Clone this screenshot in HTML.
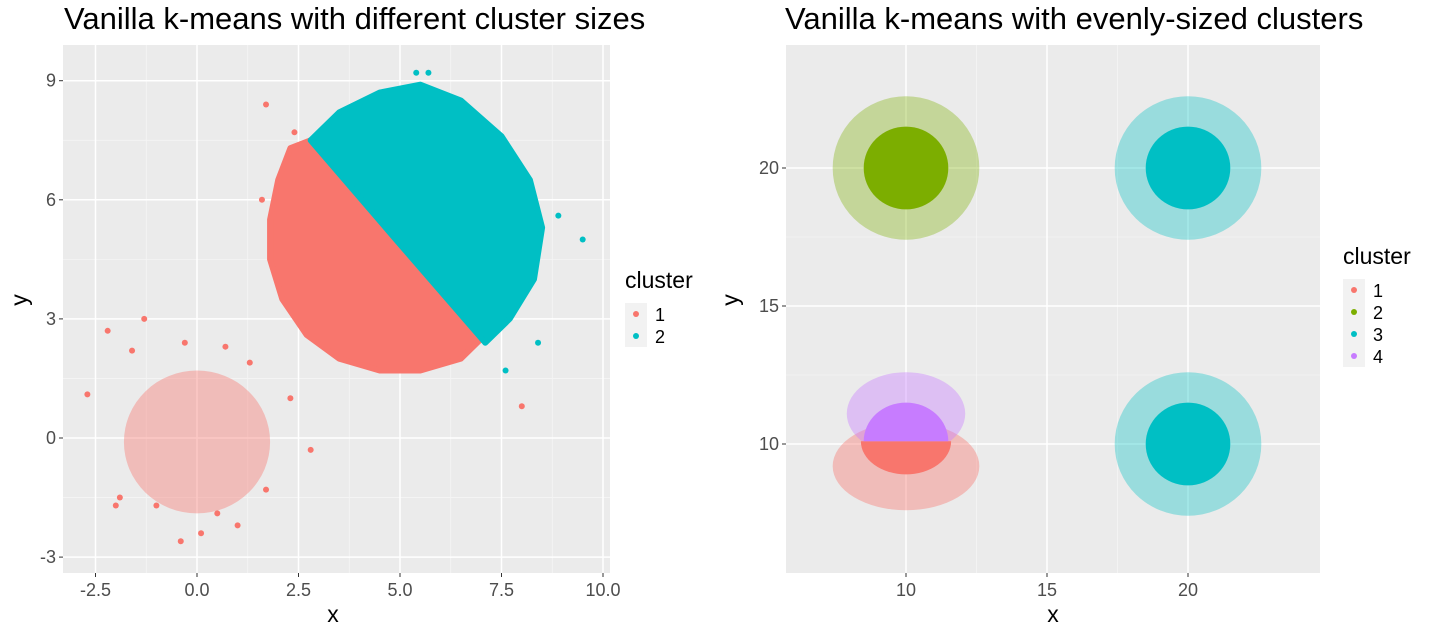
<!DOCTYPE html>
<html><head><meta charset="utf-8">
<style>
html,body{margin:0;padding:0;background:#fff;}
svg{display:block;font-family:"Liberation Sans",sans-serif;}
</style></head>
<body>
<svg id="chart" width="1436" height="635">
  <text x="64" y="29" font-size="31" fill="#000">Vanilla k-means with different cluster sizes</text>
  <text x="785" y="29" font-size="31" fill="#000">Vanilla k-means with evenly-sized clusters</text>
  <g id="left"></g>
  <g id="right"></g>
</svg>
<script>
// ---- Left chart data ----
const leftXTicks = [-2.5, 0, 2.5, 5, 7.5, 10];
const leftXLabels = ["-2.5", "0.0", "2.5", "5.0", "7.5", "10.0"];
const leftYTicks = [-3, 0, 3, 6, 9];
const leftYLabels = ["-3", "0", "3", "6", "9"];
const redBlobX = [2.8, 2.3, 2.0, 1.8, 1.8, 2.1, 2.7, 3.5, 4.5, 5.5, 6.5, 7.0, 4.9];
const redBlobY = [7.5, 7.3, 6.5, 5.5, 4.5, 3.5, 2.6, 2.0, 1.7, 1.7, 2.0, 2.5, 5.0];
const cyanBlobX = [2.8, 3.5, 4.5, 5.5, 6.5, 7.5, 8.2, 8.5, 8.3, 7.7, 7.1, 4.9];
const cyanBlobY = [7.5, 8.2, 8.7, 8.9, 8.5, 7.6, 6.5, 5.3, 4.0, 3.0, 2.4, 5.0];
const smallCx = [0.0], smallCy = [-0.1], smallRx = [1.8], smallRy = [1.8];
const smallPtsX = [-2.7, -2.2, -1.9, -1.3, -1.6, 1.0, 1.7, 2.3, 2.8, -0.4, 0.1, -0.3, 0.7, -1.0, 1.3, -2.0, 0.5, 1.7, 8.0, 9.5, 8.9, 5.4, 5.7, 1.6, 2.4, 8.4, 7.6];
const smallPtsY = [1.1, 2.7, -1.5, 3.0, 2.2, -2.2, -1.3, 1.0, -0.3, -2.6, -2.4, 2.4, 2.3, -1.7, 1.9, -1.7, -1.9, 8.4, 0.8, 5.0, 5.6, 9.2, 9.2, 6.0, 7.7, 2.4, 1.7];
const smallPtsC = [0,0,0,0,0,0,0,0,0,0,0,0,0,0,0,0,0,0,0,1,1,1,1,0,0,1,1];

// ---- Right chart data ----
const rightXTicks = [10, 15, 20];
const rightYTicks = [10, 15, 20];
const clusterCx = [10, 20, 20];
const clusterCy = [20, 20, 10];
const clusterColor = [1, 2, 2];
const coreR = [1.5, 1.5, 1.5];
const haloR = [2.6, 2.6, 2.6];
const splitCx = 10, splitCy = 10;

const LEFT_COLORS = ["#F8766D", "#00BFC4"];
const RIGHT_COLORS = ["#F8766D", "#7CAE00", "#00BFC4", "#C77CFF"];
const NS = "http://www.w3.org/2000/svg";
function mk(parent, tag, attrs, text) {
  const e = document.createElementNS(NS, tag);
  for (const k in attrs) e.setAttribute(k, attrs[k]);
  if (text !== undefined) e.textContent = text;
  parent.appendChild(e);
  return e;
}

function panel(g, px0, px1, py0, py1, xs, ys, xt, xl, yt, yl, name) {
  const bg = mk(g, "rect", {x: px0, y: py0, width: px1 - px0, height: py1 - py0, fill: "#EBEBEB"});
  
  
  for (let i = 0; i < xt.length - 1; i++) {
    const x = xs((xt[i] + xt[i + 1]) / 2);
    mk(g, "line", {x1: x, x2: x, y1: py0, y2: py1, stroke: "#F5F5F5", "stroke-width": 0.8});
  }
  for (let i = 0; i < yt.length - 1; i++) {
    const y = ys((yt[i] + yt[i + 1]) / 2);
    mk(g, "line", {x1: px0, x2: px1, y1: y, y2: y, stroke: "#F5F5F5", "stroke-width": 0.8});
  }
  xt.forEach((v, i) => {
    const x = xs(v);
    mk(g, "line", {x1: x, x2: x, y1: py0, y2: py1, stroke: "#fff", "stroke-width": 1.5});
    mk(g, "line", {x1: x, x2: x, y1: py1, y2: py1 + 4, stroke: "#333", "stroke-width": 1});
    const t = mk(g, "text", {x: x, y: py1 + 23, "font-size": 18, fill: "#4D4D4D", "text-anchor": "middle"}, xl[i]);
    
    
  });
  yt.forEach((v, i) => {
    const y = ys(v);
    mk(g, "line", {x1: px0, x2: px1, y1: y, y2: y, stroke: "#fff", "stroke-width": 1.5});
    mk(g, "line", {x1: px0 - 4, x2: px0, y1: y, y2: y, stroke: "#333", "stroke-width": 1});
    const t = mk(g, "text", {x: px0 - 7, y: y + 6, "font-size": 18, fill: "#4D4D4D", "text-anchor": "end"}, yl[i]);
    
    
  });
}

function legend(g, x, y, colors, name) {
  const t = mk(g, "text", {x: x, y: y, "font-size": 23, fill: "#000"}, "cluster");
  
  
  for (let i = 0; i < colors.length; i++) {
    const yy = y + 15 + i * 22;
    mk(g, "rect", {x: x, y: yy, width: 22, height: 22, fill: "#F2F2F2"});
    const c = mk(g, "circle", {cx: x + 11, cy: yy + 11, r: 3, fill: colors[i]});
    
    
    const l = mk(g, "text", {x: x + 30, y: yy + 18, "font-size": 18, fill: "#000"}, String(i + 1));
    
    
  }
}

// ---------- Left ----------
(function () {
  const g = document.getElementById("left");
  const px0 = 63, px1 = 610, py0 = 45, py1 = 573;
  const xs = v => 197 + v * 40.6;
  const ys = v => 438 - v * 39.7;
  panel(g, px0, px1, py0, py1, xs, ys, leftXTicks, leftXLabels, leftYTicks, leftYLabels, "left");
  for (let i = 0; i < smallCx.length; i++) {
    const e = mk(g, "ellipse", {cx: xs(smallCx[i]), cy: ys(smallCy[i]), rx: smallRx[i] * 40.6, ry: smallRy[i] * 39.7, fill: LEFT_COLORS[0], opacity: 0.4});
    
    
  }
  for (let i = 0; i < smallPtsX.length; i++) {
    const p = mk(g, "circle", {cx: xs(smallPtsX[i]), cy: ys(smallPtsY[i]), r: 3, fill: LEFT_COLORS[smallPtsC[i]]});
    
    
  }
  const poly = (X, Y) => X.map((v, i) => xs(v) + "," + ys(Y[i])).join(" ");
  const r = mk(g, "polygon", {points: poly(redBlobX, redBlobY), fill: LEFT_COLORS[0], stroke: LEFT_COLORS[0], "stroke-width": 6, "stroke-linejoin": "round"});
  
  
  const c = mk(g, "polygon", {points: poly(cyanBlobX, cyanBlobY), fill: LEFT_COLORS[1], stroke: LEFT_COLORS[1], "stroke-width": 6, "stroke-linejoin": "round"});
  
  
  const xt = mk(g, "text", {x: 333, y: 622, "font-size": 23, "text-anchor": "middle"}, "x");
  
  
  const yt = mk(g, "text", {x: 0, y: 0, "font-size": 23, "text-anchor": "middle", transform: "translate(27,300) rotate(-90)"}, "y");
  
  
  legend(g, 625, 288, LEFT_COLORS, "left");
})();

// ---------- Right ----------
(function () {
  const g = document.getElementById("right");
  const px0 = 786, px1 = 1320, py0 = 45, py1 = 573;
  const xs = v => 906 + (v - 10) * 28.2;
  const ys = v => 444 - (v - 10) * 27.6;
  panel(g, px0, px1, py0, py1, xs, ys, rightXTicks, rightXTicks.map(String), rightYTicks, rightYTicks.map(String), "right");
  for (let i = 0; i < clusterCx.length; i++) {
    const h = mk(g, "ellipse", {cx: xs(clusterCx[i]), cy: ys(clusterCy[i]), rx: haloR[i] * 28.2, ry: haloR[i] * 27.6, fill: RIGHT_COLORS[clusterColor[i]], opacity: 0.35});
    
    
    const c = mk(g, "ellipse", {cx: xs(clusterCx[i]), cy: ys(clusterCy[i]), rx: coreR[i] * 28.2, ry: coreR[i] * 27.6, fill: RIGHT_COLORS[clusterColor[i]]});
    
    
  }
  const sx = xs(splitCx);
  const rh = mk(g, "ellipse", {cx: sx, cy: ys(splitCy - 0.8), rx: 2.6 * 28.2, ry: 1.6 * 27.6, fill: RIGHT_COLORS[0], opacity: 0.4});
  
  
  const ph = mk(g, "ellipse", {cx: sx, cy: ys(splitCy + 1.1), rx: 2.1 * 28.2, ry: 1.5 * 27.6, fill: RIGHT_COLORS[3], opacity: 0.4});
  
  
  const rc = mk(g, "path", {d: `M ${sx - 1.6 * 28.2} ${ys(10.1)} L ${sx + 1.6 * 28.2} ${ys(10.1)} A ${1.6 * 28.2} ${1.2 * 27.6} 0 0 1 ${sx - 1.6 * 28.2} ${ys(10.1)} Z`, fill: RIGHT_COLORS[0]});
  
  
  const pc = mk(g, "path", {d: `M ${sx - 1.5 * 28.2} ${ys(10.1)} L ${sx + 1.5 * 28.2} ${ys(10.1)} A ${1.5 * 28.2} ${1.4 * 27.6} 0 0 0 ${sx - 1.5 * 28.2} ${ys(10.1)} Z`, fill: RIGHT_COLORS[3]});
  
  
  const xt = mk(g, "text", {x: 1053, y: 622, "font-size": 23, "text-anchor": "middle"}, "x");
  
  
  const yt = mk(g, "text", {x: 0, y: 0, "font-size": 23, "text-anchor": "middle", transform: "translate(738,300) rotate(-90)"}, "y");
  
  
  legend(g, 1343, 264, RIGHT_COLORS, "right");
})();
</script>
</body></html>
